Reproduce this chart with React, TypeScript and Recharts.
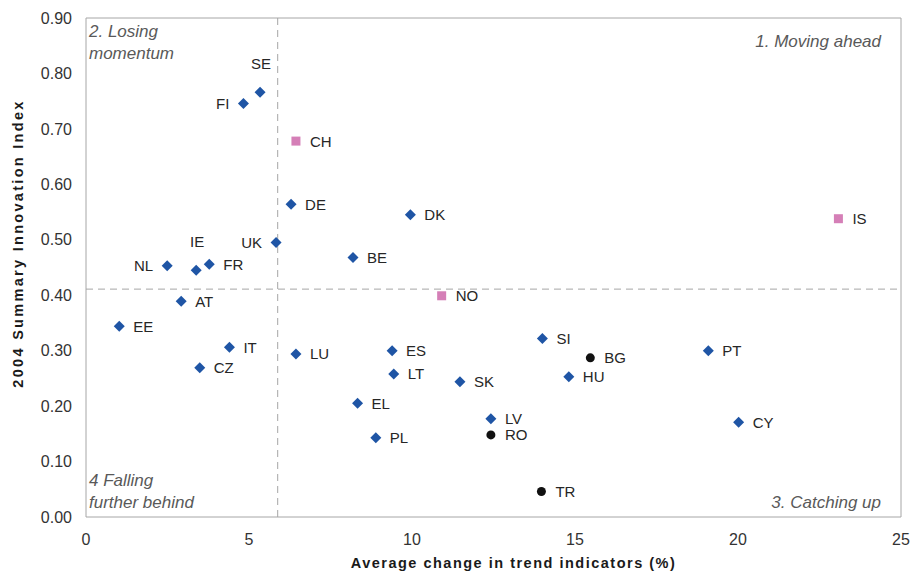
import {
  ScatterChart,
  Scatter,
  XAxis,
  YAxis,
  ReferenceLine,
  ReferenceArea,
} from 'recharts'

// EU member states (blue diamonds)
const EU_NAMES = ['SE', 'FI', 'DE', 'DK', 'UK', 'BE', 'NL', 'IE', 'FR', 'AT', 'EE', 'IT', 'CZ', 'LU', 'ES', 'LT', 'SK', 'EL', 'PL', 'LV', 'SI', 'HU', 'PT', 'CY']
const EU_X = [5.34, 4.83, 6.29, 9.95, 5.83, 8.19, 2.49, 3.38, 3.78, 2.92, 1.02, 4.4, 3.49, 6.44, 9.39, 9.44, 11.47, 8.33, 8.89, 12.42, 14.0, 14.81, 19.09, 20.02]
const EU_Y = [0.766, 0.746, 0.564, 0.545, 0.495, 0.468, 0.453, 0.445, 0.456, 0.389, 0.344, 0.306, 0.269, 0.294, 0.3, 0.258, 0.244, 0.205, 0.143, 0.177, 0.322, 0.253, 0.3, 0.171]

// associated countries (pink squares)
const ASSOC_NAMES = ['CH', 'NO', 'IS']
const ASSOC_X = [6.44, 10.91, 23.08]
const ASSOC_Y = [0.678, 0.399, 0.538]

// candidate countries (black circles)
const CAND_NAMES = ['BG', 'RO', 'TR']
const CAND_X = [15.47, 12.42, 13.97]
const CAND_Y = [0.287, 0.148, 0.046]

const X_TICKS = [0, 5, 10, 15, 20, 25]
const Y_TICKS = [0, 0.1, 0.2, 0.3, 0.4, 0.5, 0.6, 0.7, 0.8, 0.9]

const X_SPLIT = 5.88
const Y_SPLIT = 0.411

const FONT = '"Liberation Sans", Arial, sans-serif'
const GRAY = '#a6a6a6'

const LABEL_SIDE: Record<string, 'left' | 'top'> = {
  SE: 'top', IE: 'top', FI: 'left', UK: 'left', NL: 'left',
}

const toPoints = (names: string[], xs: number[], ys: number[]) =>
  names.map((name, i) => ({ name, x: xs[i], y: ys[i] }))

const euData = toPoints(EU_NAMES, EU_X, EU_Y)
const assocData = toPoints(ASSOC_NAMES, ASSOC_X, ASSOC_Y)
const candData = toPoints(CAND_NAMES, CAND_X, CAND_Y)

function PointLabel({ cx, cy, name }: { cx: number; cy: number; name: string }) {
  const side = LABEL_SIDE[name]
  let x = cx + 14
  let y = cy
  let anchor: 'start' | 'end' | 'middle' = 'start'
  if (side === 'left') { x = cx - 14; anchor = 'end' }
  if (side === 'top') { x = cx + 1; y = cy - 29; anchor = 'middle' }
  return (
    <text x={x} y={y} textAnchor={anchor} dominantBaseline="central"
      fontSize={15} fontFamily={FONT} fill="#262626">
      {name}
    </text>
  )
}

const makeShape = (kind: 'diamond' | 'square' | 'circle') => (props: any) => {
  const { cx, cy, payload } = props
  let mark
  if (kind === 'diamond') {
    const r = 5.5
    mark = <polygon points={`${cx},${cy - r} ${cx + r},${cy} ${cx},${cy + r} ${cx - r},${cy}`} fill="#1f55a5" />
  } else if (kind === 'square') {
    mark = <rect x={cx - 4.5} y={cy - 4.5} width={9} height={9} fill="#d57fb7" />
  } else {
    mark = <circle cx={cx} cy={cy} r={4.5} fill="#111" />
  }
  return (
    <g>
      {mark}
      <PointLabel cx={cx} cy={cy} name={payload.name} />
    </g>
  )
}

function Frame(props: any) {
  const { x, y, width, height } = props.viewBox
  const q = { fontSize: 17, fontFamily: FONT, fill: '#595959', fontStyle: 'italic' as const }
  const cyTitle = y + height / 2 - 24
  return (
    <g>
      <text x={x + 3} y={y + 13} dominantBaseline="central" {...q}>2. Losing</text>
      <text x={x + 3} y={y + 35} dominantBaseline="central" {...q}>momentum</text>
      <text x={x + width - 20} y={y + 23} textAnchor="end" dominantBaseline="central" {...q}>1. Moving ahead</text>
      <text x={x + width - 20} y={y + height - 15} textAnchor="end" dominantBaseline="central" {...q}>3. Catching up</text>
      <text x={x + 3} y={y + height - 37} dominantBaseline="central" {...q}>4 Falling</text>
      <text x={x + 3} y={y + height - 15} dominantBaseline="central" {...q}>further behind</text>
      <text x={x + width / 2 + 20} y={568} textAnchor="middle" fontSize={14.5} fontWeight="bold"
        letterSpacing={1.5} fontFamily={FONT} fill="#1a1a1a">
        Average change in trend indicators (%)
      </text>
      <text x={x - 68} y={cyTitle} textAnchor="middle" dominantBaseline="central" fontSize={14.5}
        fontWeight="bold" letterSpacing={2.3} fontFamily={FONT} fill="#1a1a1a"
        transform={`rotate(-90 ${x - 68} ${cyTitle})`}>
        2004 Summary Innovation Index
      </text>
    </g>
  )
}

export default function App() {
  return (
    <div style={{ position: 'absolute', left: 0, top: 0, width: 912, height: 571, background: '#fff' }}>
      <ScatterChart width={912} height={571} margin={{ top: 18, right: 11, bottom: 24, left: 30 }}>
        <XAxis
          type="number"
          dataKey="x"
          domain={[0, 25]}
          ticks={X_TICKS}
          axisLine={false}
          tickLine={false}
          tickSize={0}
          tickMargin={17}
          height={30}
          tick={{ fill: '#333', fontSize: 16, fontFamily: FONT }}
        />
        <YAxis
          type="number"
          dataKey="y"
          domain={[0, 0.9]}
          ticks={Y_TICKS}
          axisLine={false}
          tickLine={false}
          tickSize={0}
          tickMargin={14}
          width={56}
          tickFormatter={(v: number) => v.toFixed(2)}
          tick={{ fill: '#333', fontSize: 16, fontFamily: FONT }}
        />
        <ReferenceArea x1={0} x2={25} y1={0} y2={0.9} fill="none" stroke={GRAY} strokeWidth={1}
          label={(p: any) => <Frame {...p} />} />
        <ReferenceLine x={X_SPLIT} stroke={GRAY} strokeDasharray="7 5" strokeWidth={1} />
        <ReferenceLine y={Y_SPLIT} stroke={GRAY} strokeDasharray="7 5" strokeWidth={1} />
        <Scatter data={euData} shape={makeShape('diamond')} isAnimationActive={false} />
        <Scatter data={assocData} shape={makeShape('square')} isAnimationActive={false} />
        <Scatter data={candData} shape={makeShape('circle')} isAnimationActive={false} />
      </ScatterChart>
    </div>
  )
}
